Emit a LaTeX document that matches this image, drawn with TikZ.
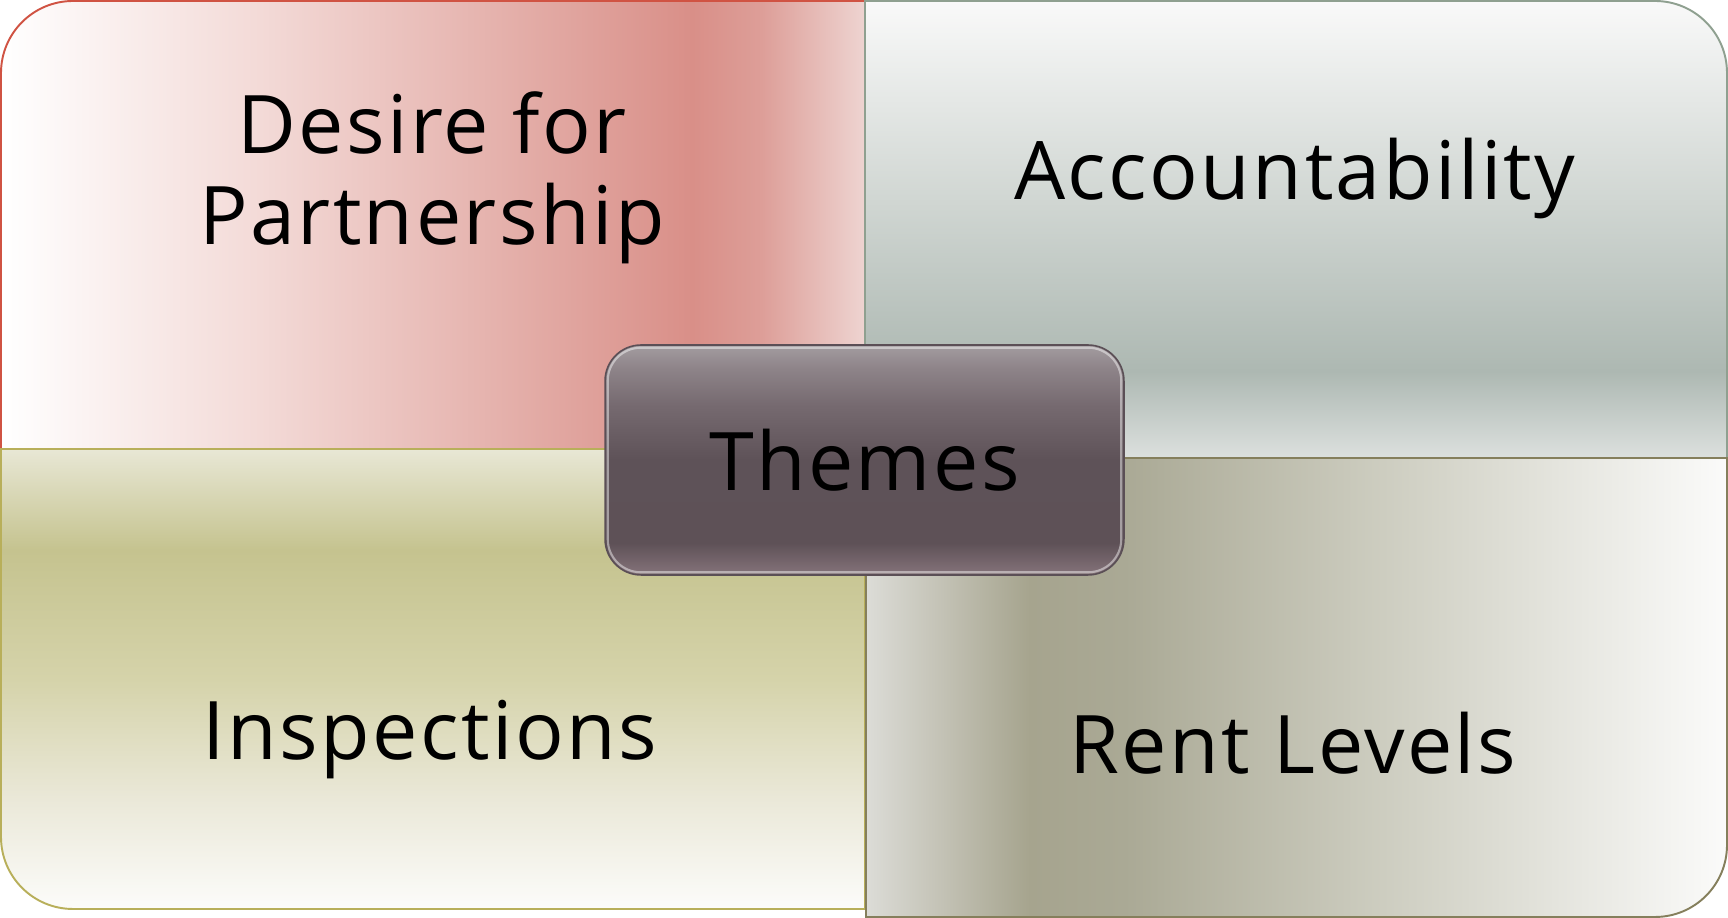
\documentclass[tikz,border=0pt]{standalone}
\usepackage{fontspec}
\setmainfont{Open Sans}[LetterSpace=3]
\usepackage{tikz}

\definecolor{tlline}{HTML}{D05343}
\definecolor{trline}{HTML}{8FA090}
\definecolor{blline}{HTML}{B8AF5A}
\definecolor{brline}{HTML}{857F5C}
\definecolor{themeline}{HTML}{5B4F56}

\definecolor{tla}{HTML}{F3DAD7}
\definecolor{tlb}{HTML}{E6B5B0}
\definecolor{tlc}{HTML}{D98F88}
\definecolor{tld}{HTML}{DD9E98}
\definecolor{tle}{HTML}{EED4D1}
\definecolor{tra}{HTML}{DCE0DE}
\definecolor{trb}{HTML}{ADB8B2}
\definecolor{trc}{HTML}{D0D6D2}
\definecolor{trd}{HTML}{F9F9F9}
\definecolor{bla}{HTML}{FCFCFA}
\definecolor{blb}{HTML}{EAE8D8}
\definecolor{blc}{HTML}{D5D3AA}
\definecolor{bld}{HTML}{C5C38F}
\definecolor{ble}{HTML}{E8E7D5}
\definecolor{bra}{HTML}{DCDCD7}
\definecolor{brb}{HTML}{A6A48E}
\definecolor{brc}{HTML}{AAA995}
\definecolor{brd}{HTML}{CDCDC0}
\definecolor{bre}{HTML}{FBFBFA}
\definecolor{tha}{HTML}{857479}
\definecolor{thb}{HTML}{7D6C73}
\definecolor{thc}{HTML}{5E5157}
\definecolor{thd}{HTML}{5E5258}
\definecolor{the}{HTML}{766A70}
\definecolor{thf}{HTML}{8E8489}
\definecolor{thg}{HTML}{A39CA0}

\pgfdeclarehorizontalshading{partnershade}{100bp}{color(0bp)=(white); color(25bp)=(white);
    color(40bp)=(tla); color(52.5bp)=(tlb); color(65bp)=(tlc);
    color(69bp)=(tld); color(75bp)=(tle); color(100bp)=(tle)}
\pgfdeclareverticalshading{accountshade}{100bp}{color(0bp)=(tra); color(25bp)=(tra);
    color(34.5bp)=(trb); color(53bp)=(trc); color(75bp)=(trd); color(100bp)=(trd)}
\pgfdeclareverticalshading{inspectshade}{100bp}{color(0bp)=(bla); color(25bp)=(bla);
    color(37bp)=(blb); color(50bp)=(blc); color(64bp)=(bld);
    color(75bp)=(ble); color(100bp)=(ble)}
\pgfdeclarehorizontalshading{rentshade}{100bp}{color(0bp)=(bra); color(25bp)=(bra);
    color(34.5bp)=(brb); color(40bp)=(brc); color(55bp)=(brd);
    color(75bp)=(bre); color(100bp)=(bre)}
\pgfdeclareverticalshading{themeshade}{100bp}{color(0bp)=(tha); color(25bp)=(tha);
    color(26.5bp)=(thb); color(32bp)=(thc); color(50bp)=(thd);
    color(62bp)=(the); color(70bp)=(thf); color(75bp)=(thg); color(100bp)=(thg)}

\tikzset{
    quad/.style={line width=1.1pt},
    quadtext/.style={font=\fontsize{46}{52}\selectfont, text=black, align=center},
    themebox/.style={shading=themeshade, draw=themeline, line width=0.9pt,
        rounded corners=0.72cm, minimum width=10.38cm, minimum height=4.6cm,
        font=\fontsize{46}{52}\selectfont, text=black},
    themeglow/.style={draw=white, opacity=0.45, line width=1.2pt, rounded corners=0.66cm}
}

\begin{document}
\begin{tikzpicture}[x=0.02cm,y=0.02cm]
    \useasboundingbox (0,0) rectangle (1728,918);
    \path[quad, shading=partnershade, draw=tlline] (865,469) -- (1,469) -- (1,845)
        arc[start angle=180, end angle=90, radius=72] -- (865,917) -- cycle;
    \path[quad, shading=accountshade, draw=trline] (865,460) -- (865,917) -- (1655,917)
        arc[start angle=90, end angle=0, radius=72] -- (1727,460) -- cycle;
    \path[quad, shading=inspectshade, draw=blline] (865,469) -- (1,469) -- (1,81)
        arc[start angle=180, end angle=270, radius=72] -- (865,9) -- cycle;
    \path[quad, shading=rentshade, draw=brline] (866,460) -- (1727,460) -- (1727,73)
        arc[start angle=0, end angle=-90, radius=72] -- (866,1) -- cycle;

    \node[quadtext] (partnership) at (432,740) {Desire for\\Partnership};
    \node[quadtext, anchor=base] (accountability) at (1295,718) {Accountability};
    \node[quadtext, anchor=base] (inspections) at (430,158) {Inspections};
    \node[quadtext, anchor=base] (rentlevels) at (1293,144) {Rent Levels};

    \node[themebox] (themes) at (864.5,458) {Themes};
    \draw[themeglow] ([shift={(0.07cm,-0.07cm)}]themes.north west)
        rectangle ([shift={(-0.07cm,0.07cm)}]themes.south east);
\end{tikzpicture}
\end{document}
